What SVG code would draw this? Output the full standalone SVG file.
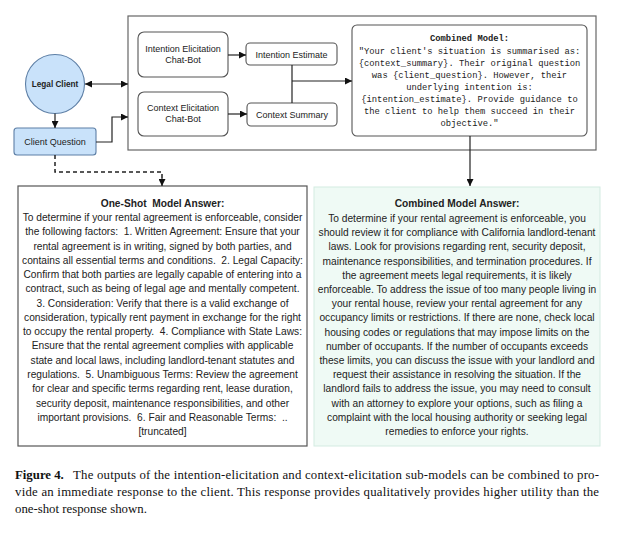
<svg xmlns="http://www.w3.org/2000/svg" width="624" height="533" viewBox="0 0 624 533">
<style>
.sans{font-family:"Liberation Sans",Arial,sans-serif;fill:#222;}
.node{font-size:9px;text-anchor:middle;}
.box{fill:#fff;stroke:#555;stroke-width:1.1;}
.body{font-size:10.2px;text-anchor:middle;white-space:pre;}
.mono{font-family:"Liberation Mono","Courier New",monospace;font-size:8.8px;text-anchor:middle;fill:#222;white-space:pre;}
.cap{font-family:"Liberation Serif","Times New Roman",serif;font-size:12.8px;fill:#111;}
.ln{fill:none;stroke:#222;stroke-width:1.2;}
</style>
<defs>
<marker id="ah" viewBox="0 0 10 10" refX="10" refY="5" markerWidth="7" markerHeight="7" orient="auto-start-reverse" markerUnits="userSpaceOnUse">
<path d="M0,0 L10,5 L0,10 z" fill="#111"/>
</marker>
</defs>
<rect width="624" height="533" fill="#fff"/>

<g id="system">
<rect x="128" y="16" width="468" height="134" fill="#fff" stroke="#666" stroke-width="1.2"/>
</g>

<g id="legal-client">
<circle cx="55" cy="84" r="29.5" fill="#c9e2fa" stroke="#5d7fa6" stroke-width="1.1"/>
<text class="sans" x="55" y="87" font-size="8.2px" font-weight="bold" text-anchor="middle">Legal Client</text>
</g>

<g id="client-question">
<rect x="14" y="128" width="82" height="27" rx="3" fill="#c9e2fa" stroke="#5d7fa6" stroke-width="1.1"/>
<text class="sans node" x="55" y="145">Client Question</text>
</g>

<g id="intention-bot">
<rect class="box" x="138" y="32" width="90" height="45" rx="6"/>
<text class="sans node" x="183" y="52">Intention Elicitation</text>
<text class="sans node" x="183" y="63">Chat-Bot</text>
</g>

<g id="context-bot">
<rect class="box" x="138" y="92" width="90" height="44" rx="6"/>
<text class="sans node" x="183" y="111">Context Elicitation</text>
<text class="sans node" x="183" y="122">Chat-Bot</text>
</g>

<g id="intention-estimate">
<rect class="box" x="246" y="43" width="91" height="22" rx="4"/>
<text class="sans node" x="291.5" y="57.5">Intention Estimate</text>
</g>

<g id="context-summary">
<rect class="box" x="247" y="103" width="90" height="23" rx="4"/>
<text class="sans node" x="292" y="117.5">Context Summary</text>
</g>

<g id="combined-model">
<rect class="box" x="352" y="25" width="235" height="111" rx="5"/>
<text class="mono" x="469.5" y="41" font-weight="bold">Combined Model:</text>
<text class="mono" x="469.5" y="54">"Your client's situation is summarised as:</text>
<text class="mono" x="469.5" y="66">{context_summary}. Their original question</text>
<text class="mono" x="469.5" y="78">was {client_question}. However, their</text>
<text class="mono" x="469.5" y="90">underlying intention is:</text>
<text class="mono" x="469.5" y="102">{intention_estimate}. Provide guidance to</text>
<text class="mono" x="469.5" y="114">the client to help them succeed in their</text>
<text class="mono" x="469.5" y="126">objective."</text>
</g>

<g id="one-shot-answer">
<rect x="18" y="186" width="289" height="260" fill="#fff" stroke="#555" stroke-width="1.2"/>
<text class="sans body" x="162.5" y="207" font-weight="bold">One-Shot  Model Answer:</text>
<text class="sans body" x="162.5" y="221">To determine if your rental agreement is enforceable, consider</text>
<text class="sans body" x="162.5" y="235.3">the following factors:  1. Written Agreement: Ensure that your</text>
<text class="sans body" x="162.5" y="249.5">rental agreement is in writing, signed by both parties, and</text>
<text class="sans body" x="162.5" y="263.8">contains all essential terms and conditions.  2. Legal Capacity:</text>
<text class="sans body" x="162.5" y="278.1">Confirm that both parties are legally capable of entering into a</text>
<text class="sans body" x="162.5" y="292.3">contract, such as being of legal age and mentally competent.</text>
<text class="sans body" x="162.5" y="306.6">3. Consideration: Verify that there is a valid exchange of</text>
<text class="sans body" x="162.5" y="320.9">consideration, typically rent payment in exchange for the right</text>
<text class="sans body" x="162.5" y="335.2">to occupy the rental property.  4. Compliance with State Laws:</text>
<text class="sans body" x="162.5" y="349.4">Ensure that the rental agreement complies with applicable</text>
<text class="sans body" x="162.5" y="363.7">state and local laws, including landlord-tenant statutes and</text>
<text class="sans body" x="162.5" y="378">regulations.  5. Unambiguous Terms: Review the agreement</text>
<text class="sans body" x="162.5" y="392.2">for clear and specific terms regarding rent, lease duration,</text>
<text class="sans body" x="162.5" y="406.5">security deposit, maintenance responsibilities, and other</text>
<text class="sans body" x="162.5" y="420.8">important provisions.  6. Fair and Reasonable Terms:  ..</text>
<text class="sans body" x="162.5" y="435">[truncated]</text>
</g>

<g id="combined-answer">
<rect x="314" y="187" width="286" height="259" fill="#effaf5" stroke="#d3ebe1" stroke-width="1"/>
<text class="sans body" x="457" y="207" font-weight="bold">Combined Model Answer:</text>
<text class="sans body" x="457" y="222">To determine if your rental agreement is enforceable, you</text>
<text class="sans body" x="457" y="236.2">should review it for compliance with California landlord-tenant</text>
<text class="sans body" x="457" y="250.4">laws. Look for provisions regarding rent, security deposit,</text>
<text class="sans body" x="457" y="264.6">maintenance responsibilities, and termination procedures. If</text>
<text class="sans body" x="457" y="278.8">the agreement meets legal requirements, it is likely</text>
<text class="sans body" x="457" y="293">enforceable. To address the issue of too many people living in</text>
<text class="sans body" x="457" y="307.2">your rental house, review your rental agreement for any</text>
<text class="sans body" x="457" y="321.4">occupancy limits or restrictions. If there are none, check local</text>
<text class="sans body" x="457" y="335.6">housing codes or regulations that may impose limits on the</text>
<text class="sans body" x="457" y="349.8">number of occupants. If the number of occupants exceeds</text>
<text class="sans body" x="457" y="364">these limits, you can discuss the issue with your landlord and</text>
<text class="sans body" x="457" y="378.2">request their assistance in resolving the situation. If the</text>
<text class="sans body" x="457" y="392.4">landlord fails to address the issue, you may need to consult</text>
<text class="sans body" x="457" y="406.6">with an attorney to explore your options, such as filing a</text>
<text class="sans body" x="457" y="420.8">complaint with the local housing authority or seeking legal</text>
<text class="sans body" x="457" y="435">remedies to enforce your rights.</text>
</g>

<g id="connectors">
<path class="ln" d="M85,84 H128" marker-start="url(#ah)" marker-end="url(#ah)"/>
<path class="ln" d="M55,113.5 V128" marker-end="url(#ah)"/>
<path class="ln" d="M96,142 H112 V117 H128" marker-end="url(#ah)"/>
<path class="ln" d="M228,55 H246" marker-end="url(#ah)"/>
<path class="ln" d="M228,114 H247" marker-end="url(#ah)"/>
<path class="ln" d="M292,65 V103"/>
<path class="ln" d="M292,81 H352" marker-end="url(#ah)"/>
<path class="ln" d="M470,136 V186" marker-end="url(#ah)"/>
<path fill="none" stroke="#222" stroke-width="1.5" stroke-dasharray="4,3" d="M55,155 V172 H162 V179"/>
<path class="ln" d="M162,178 V186" marker-end="url(#ah)"/>
</g>

<g id="caption">
<text class="cap" x="15" y="479" font-weight="bold">Figure 4.</text>
<text class="cap" x="73" y="479" textLength="526" lengthAdjust="spacing">The outputs of the intention-elicitation and context-elicitation sub-models can be combined to pro-</text>
<text class="cap" x="15" y="496" textLength="584" lengthAdjust="spacing">vide an immediate response to the client. This response provides qualitatively provides higher utility than the</text>
<text class="cap" x="15" y="513">one-shot response shown.</text>
</g>
</svg>
